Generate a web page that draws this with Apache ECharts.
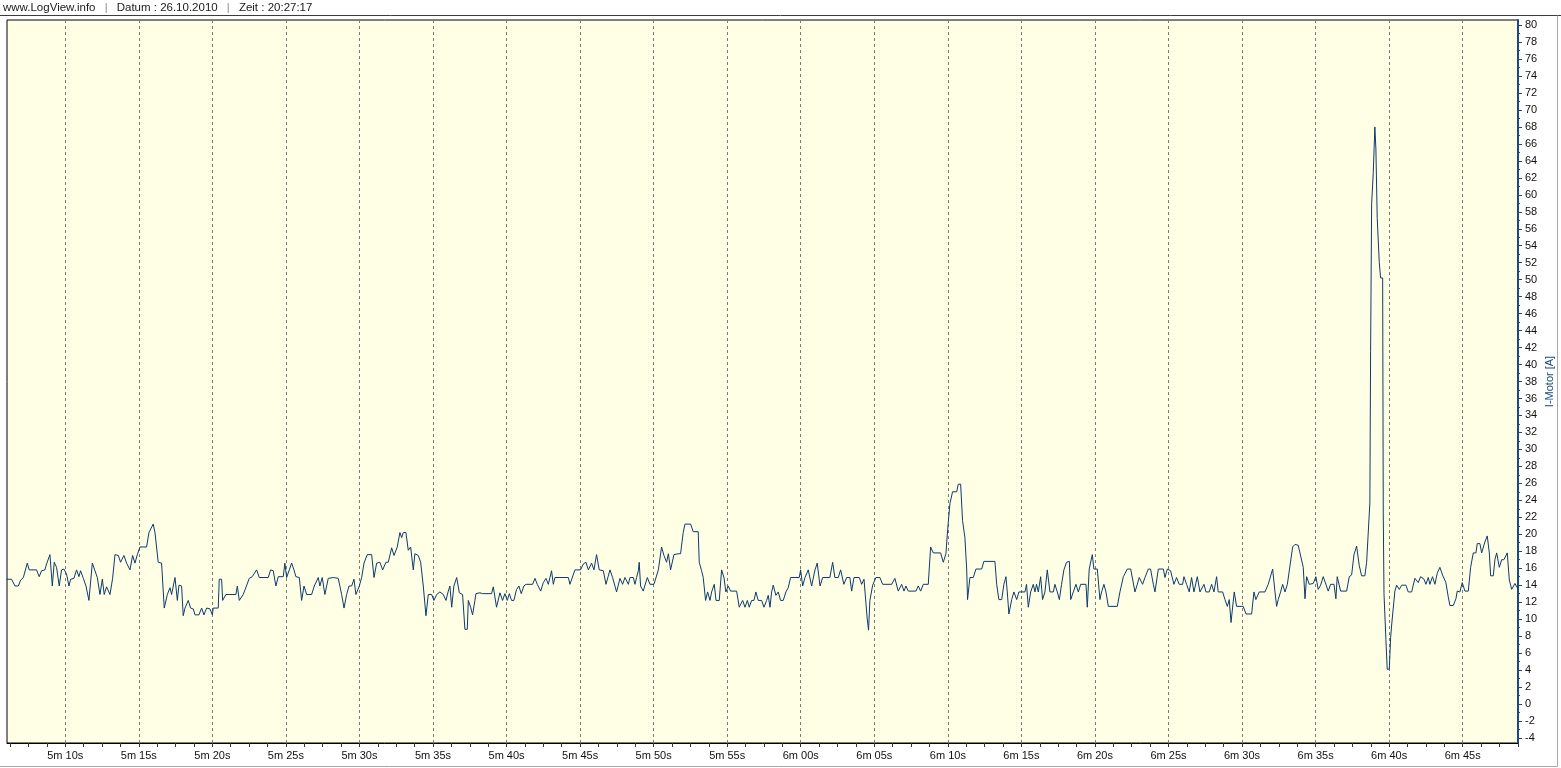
<!DOCTYPE html>
<html><head><meta charset="utf-8">
<script src="https://cdn.jsdelivr.net/npm/echarts@6/dist/echarts.min.js"></script>
<style>html,body{margin:0;padding:0;background:#fff}#c{width:1561px;height:768px}</style>
</head><body><div id="c"></div>
<script>
// ---- header texts ----
const siteText = 'www.LogView.info';
const dateText = 'Datum : 26.10.2010';
const timeText = 'Zeit : 20:27:17';
const axisName = 'I-Motor [A]';

// ---- axis ticks ----
const yTickValues = [-4,-2,0,2,4,6,8,10,12,14,16,18,20,22,24,26,28,30,32,34,36,38,40,42,44,46,48,50,52,54,56,58,60,62,64,66,68,70,72,74,76,78,80];
const xLabelSeconds = [310,315,320,325,330,335,340,345,350,355,360,365,370,375,380,385,390,395,400,405];
const xLabelTexts = ['5m 10s','5m 15s','5m 20s','5m 25s','5m 30s','5m 35s','5m 40s','5m 45s','5m 50s','5m 55s','6m 00s','6m 05s','6m 10s','6m 15s','6m 20s','6m 25s','6m 30s','6m 35s','6m 40s','6m 45s'];

// ---- series: [time in s, I-Motor in A] ----
const motorPart1 = [[306.01,14.7],[306.35,14.7],[306.58,13.9],[306.81,13.9],[306.97,14.6],[307.15,14.9],[307.42,16.6],[307.55,15.8],[308.05,15.8],[308.23,15.0],[308.39,15.7],[308.62,15.8],[308.73,16.5],[308.96,17.6],[309.12,13.9],[309.25,16.7],[309.41,16.1],[309.59,13.9],[309.75,15.8],[309.91,15.9],[310.09,15.3],[310.25,13.9],[310.37,14.7],[310.59,14.8],[310.77,15.8],[310.93,15.0],[311.04,15.7],[311.23,14.8],[311.41,13.9],[311.61,12.2],[311.84,16.6],[312.02,15.7],[312.18,14.9],[312.36,12.9],[312.52,14.7],[312.65,12.9],[312.81,13.8],[313.04,12.9],[313.22,14.8],[313.38,17.6],[313.61,17.5],[313.76,16.7],[313.99,17.5],[314.17,16.6],[314.40,15.8],[314.58,17.5],[314.74,16.6],[314.90,17.6],[315.08,18.5],[315.53,18.5],[315.69,20.2],[315.80,20.2],[315.98,21.2],[316.10,20.2],[316.32,16.7],[316.55,16.6],[316.73,11.3],[316.94,12.9],[317.12,13.7],[317.23,12.9],[317.46,14.9],[317.62,12.2],[317.73,14.0],[317.91,13.9],[318.02,10.4],[318.14,11.3],[318.36,12.2],[318.52,11.3],[318.70,11.2],[318.82,10.5],[319.09,10.5],[319.27,11.3],[319.43,10.5],[319.61,11.3],[319.84,11.2],[320.00,10.5],[320.06,11.3],[320.40,11.3],[320.47,14.7],[320.63,14.7],[320.70,12.2],[320.92,12.9],[321.60,12.9],[321.70,13.9],[321.83,12.2],[322.10,12.9],[322.51,14.8],[322.71,15.0],[323.01,15.8],[323.19,14.9],[323.80,14.9],[323.96,15.8],[324.14,15.7],[324.32,13.9],[324.48,15.0],[324.82,15.0],[324.93,16.6],[325.05,14.9],[325.23,15.8],[325.39,16.6],[325.55,15.8],[325.68,15.0],[325.91,14.9],[326.07,12.2],[326.23,13.9],[326.41,12.9],[326.75,12.9],[326.93,13.9],[327.20,14.9],[327.31,13.9],[327.47,14.9],[327.65,12.9],[327.88,14.8],[328.22,14.9],[328.56,14.8],[328.79,12.9],[328.95,11.3],[329.13,12.9],[329.29,13.9],[329.47,13.9],[329.63,14.7],[329.76,12.9],[329.99,13.9],[330.15,14.9],[330.31,16.6],[330.53,17.6],[330.83,17.6],[330.99,14.9],[331.17,16.6],[331.39,16.7],[331.58,15.8],[331.80,16.7],[331.96,16.7],[332.19,18.4],[332.35,17.5],[332.57,18.5],[332.75,20.2],[332.87,19.6],[332.98,20.2],[333.16,20.2],[333.32,18.1],[333.48,18.5],[333.66,15.8],[333.77,17.7],[334.00,17.5],[334.16,16.7],[334.34,13.9],[334.52,10.4],[334.68,12.9],[334.91,12.9],[335.06,12.2],[335.25,12.9],[335.47,13.2],[335.70,12.9],[335.88,12.2],[336.04,13.3]];
const motorPart2 = [[336.15,13.9],[336.27,11.4],[336.42,13.9],[336.61,14.9],[336.79,13.1],[337.01,12.9],[337.17,8.8],[337.33,8.8],[337.40,12.2],[337.56,11.4],[337.69,10.5],[337.85,12.2],[337.92,13.0],[338.19,13.1],[338.37,13.0],[338.98,13.0],[339.10,13.8],[339.32,11.4],[339.55,13.1],[339.73,12.2],[339.89,13.0],[340.05,12.2],[340.19,13.0],[340.34,12.2],[340.50,12.2],[340.68,13.5],[340.84,13.9],[341.00,13.0],[341.18,13.9],[341.32,14.1],[341.77,14.1],[341.93,14.8],[342.09,14.1],[342.32,13.3],[342.50,14.3],[342.68,14.8],[342.84,14.1],[342.95,14.9],[343.06,15.7],[343.18,14.1],[343.29,14.9],[344.20,14.9],[344.31,14.1],[344.65,15.8],[345.03,15.8],[345.22,16.5],[345.40,16.7],[345.56,15.8],[345.78,16.6],[345.94,15.8],[346.12,17.6],[346.30,15.8],[346.58,15.7],[346.76,14.1],[347.03,15.8],[347.21,14.9],[347.48,13.2],[347.71,14.8],[347.89,14.1],[348.05,14.9],[348.28,14.1],[348.39,14.9],[348.62,14.9],[348.73,14.1],[348.84,14.9],[348.96,15.7],[349.02,16.7],[349.11,13.9],[349.29,13.3],[349.57,14.9],[349.75,14.1],[350.02,14.1],[350.32,15.8],[350.54,18.5],[350.70,17.5],[350.88,16.7],[351.00,17.7],[351.15,15.8],[351.38,17.6],[351.67,17.7],[351.83,17.7],[352.01,20.2],[352.13,21.2],[352.51,21.2],[352.69,20.3],[353.03,20.3],[353.10,16.7],[353.26,15.7],[353.37,14.9],[353.53,12.2],[353.67,13.2],[353.83,12.2],[353.94,13.2],[354.12,14.1],[354.24,12.2],[354.46,12.2],[354.62,15.8],[354.78,14.9],[354.91,13.2],[355.07,13.9],[355.23,13.3],[355.64,13.3],[355.82,11.4],[356.05,12.2],[356.21,11.4],[356.37,12.2],[356.50,11.4],[356.66,12.2],[356.82,12.2],[356.95,13.2],[357.11,12.2],[357.34,12.2],[357.50,11.4],[357.68,12.2],[357.79,12.8],[357.91,11.4],[358.02,13.2],[358.13,14.0],[358.31,12.8],[358.47,13.2],[358.63,12.2],[358.81,12.2],[358.99,13.2],[359.15,13.7],[359.31,14.9],[359.90,14.9],[359.99,15.8],[360.13,13.9],[360.29,14.9],[360.51,15.8],[360.74,13.9],[360.97,15.8],[361.12,16.6],[361.31,13.9],[361.49,14.9],[361.98,14.9],[362.17,16.7],[362.32,14.9],[362.55,14.9],[362.71,15.8],[362.93,14.1],[363.12,14.9],[363.34,14.9],[363.46,13.3],[363.62,14.9],[363.98,14.9],[364.14,14.1],[364.30,14.7],[364.43,14.9],[364.52,10.0],[364.61,8.7],[364.70,12.2],[364.89,14.0],[365.11,14.9],[365.38,14.9],[365.57,14.1],[366.18,14.1],[366.40,14.8],[366.63,13.3]];
const motorPart3 = [[366.74,13.5],[366.86,14.1],[367.02,13.3],[367.15,13.9],[367.31,13.3],[367.83,13.3],[367.99,13.9],[368.15,13.3],[368.33,14.1],[368.67,14.1],[368.83,18.5],[369.01,17.8],[369.51,17.8],[369.69,16.7],[369.87,17.7],[369.98,20.4],[370.14,23.6],[370.32,25.0],[370.60,25.0],[370.71,25.9],[370.87,25.9],[371.00,21.6],[371.16,19.6],[371.28,15.9],[371.34,12.3],[371.50,14.9],[371.73,14.9],[371.91,15.9],[372.30,15.9],[372.45,16.8],[373.20,16.8],[373.32,14.1],[373.47,12.3],[373.66,12.3],[373.81,14.1],[373.95,15.0],[374.04,13.2],[374.15,10.6],[374.34,12.3],[374.49,13.2],[374.68,12.3],[374.83,13.2],[375.24,13.2],[375.35,14.1],[375.47,11.4],[375.63,13.2],[375.81,14.1],[375.92,13.2],[376.03,14.1],[376.15,13.2],[376.31,15.0],[376.44,12.3],[376.60,13.2],[376.76,15.8],[376.94,13.2],[377.17,13.2],[377.28,14.1],[377.44,13.2],[377.58,12.3],[377.73,14.1],[377.89,15.8],[378.07,16.7],[378.26,16.8],[378.35,12.3],[378.53,13.2],[378.71,14.1],[378.87,13.2],[379.03,14.1],[379.39,14.1],[379.48,11.4],[379.61,15.9],[379.82,17.6],[379.93,15.9],[380.16,15.9],[380.34,12.3],[380.45,13.2],[380.61,14.1],[380.75,13.2],[380.91,11.5],[381.52,11.5],[381.70,13.2],[381.93,15.0],[382.20,15.9],[382.43,15.9],[382.72,13.2],[382.88,14.1],[383.01,14.9],[383.24,14.1],[383.40,14.9],[383.63,15.9],[383.78,15.9],[383.97,14.1],[384.08,13.2],[384.31,15.9],[384.65,15.9],[384.76,14.9],[384.92,15.9],[385.14,15.7],[385.37,14.1],[385.55,14.9],[385.73,14.1],[385.96,14.1],[386.05,15.0],[386.23,14.1],[386.41,13.2],[386.57,14.9],[386.73,13.2],[386.96,15.0],[387.14,13.2],[387.41,14.1],[387.55,13.2],[387.77,13.2],[387.93,14.1],[388.09,13.2],[388.27,15.0],[388.38,13.2],[388.68,13.2],[388.84,12.3],[389.00,11.5],[389.13,12.3],[389.25,9.6],[389.36,9.6],[389.47,13.2],[389.63,11.5],[390.08,11.5],[390.27,10.6],[390.65,10.6],[390.81,13.2],[390.94,12.3],[391.17,13.2],[391.56,13.2],[391.78,14.1],[392.08,15.9],[392.24,13.2],[392.35,11.5],[392.46,12.3],[392.62,13.2],[392.76,14.1],[392.92,13.2],[393.08,14.1],[393.21,14.1],[393.44,18.5],[393.60,18.8],[393.82,18.7]];
const motorPart4 = [[394.16,16.1],[394.28,12.4],[394.39,15.0],[394.57,14.1],[394.84,14.2],[395.02,15.0],[395.18,13.5],[395.34,14.0],[395.52,15.0],[395.86,13.3],[396.02,14.1],[396.25,14.1],[396.38,12.4],[396.47,15.0],[396.70,13.3],[397.11,13.3],[397.29,15.0],[397.45,15.2],[397.61,17.6],[397.79,18.6],[397.97,16.3],[398.13,15.1],[398.35,15.1],[398.47,16.7],[398.58,16.8],[398.69,23.7],[398.74,41.5],[398.81,58.9],[398.92,62.6],[399.03,68.0],[399.10,65.4],[399.19,57.2],[399.33,52.0],[399.42,50.2],[399.56,50.2],[399.60,22.4],[399.65,13.0],[399.78,7.6],[399.87,4.1],[400.01,4.1],[400.10,7.8],[400.17,9.3],[400.28,11.3],[400.39,13.3],[400.51,14.0],[400.69,13.5],[400.85,14.0],[401.14,14.0],[401.30,13.2],[401.53,13.2],[401.75,14.8],[401.98,14.3],[402.14,15.0],[402.37,14.7],[402.50,14.1],[402.66,14.9],[402.77,14.1],[402.95,15.0],[403.11,14.1],[403.27,15.4],[403.45,16.1],[403.63,15.2],[403.86,14.3],[404.02,12.6],[404.13,11.6],[404.36,11.6],[404.54,12.4],[404.63,13.3],[404.81,13.2],[404.97,14.3],[405.15,13.3],[405.38,13.3],[405.54,16.1],[405.72,17.8],[405.90,17.8],[405.99,18.9],[406.17,18.9],[406.29,17.8],[406.51,19.1],[406.67,19.8],[406.81,17.8],[406.90,15.1],[407.08,15.1],[407.19,17.0],[407.31,17.8],[407.49,16.1],[407.65,17.0],[407.80,17.0],[408.03,17.8],[408.17,14.6],[408.33,13.5],[408.55,14.2],[408.78,13.5]];

const motorCurrent = motorPart1.concat(motorPart2, motorPart3, motorPart4);

// ---- derived ticks (style helpers) ----
const X_MIN = 306.04, X_MAX = 408.76, Y_MIN = -4.6, Y_MAX = 80.6;
const xMinorTicks = [];
for (let i = 0; i < xLabelSeconds.length; i++) {
  for (let k = -3; k <= 3; k++) {
    const v = xLabelSeconds[i] + k * 1.25;
    if (v > X_MIN && v < X_MAX && xMinorTicks.indexOf(v) < 0) xMinorTicks.push(v);
  }
}
xMinorTicks.sort((a, b) => a - b);
const yMinorTicks = yTickValues.slice(0, -1).map(v => v + 1);

const FONT = '"Liberation Sans", Arial, sans-serif';
const BLUE = '#1b4a80';
const LINE = '#0d3a6e';

const chart = echarts.init(document.getElementById('c'), null, { renderer: 'canvas' });
chart.setOption({
  animation: false,
  backgroundColor: '#ffffff',
  title: {
    left: 3, top: 1, padding: 0,
    text: '{a|' + siteText + '}{p|   |   }{a|' + dateText + '}{p|   |   }{a|' + timeText + '}',
    textStyle: {
      fontWeight: 'normal', fontSize: 11, lineHeight: 14,
      rich: {
        a: { fontFamily: FONT, fontSize: 11.5, fontWeight: 'normal', color: '#1a1a1a', lineHeight: 14 },
        p: { fontFamily: FONT, fontSize: 11, fontWeight: 'normal', color: '#8a8a8a', lineHeight: 14 }
      }
    }
  },
  graphic: [
    { type: 'line', shape: { x1: 0, y1: 15.5, x2: 1561, y2: 15.5 }, style: { stroke: '#3c3c3c', lineWidth: 1 }, silent: true },
    { type: 'line', shape: { x1: 1557.5, y1: 15.5, x2: 1557.5, y2: 766.5 }, style: { stroke: '#a8a8a8', lineWidth: 1 }, silent: true },
    { type: 'line', shape: { x1: 0, y1: 766.5, x2: 1557.5, y2: 766.5 }, style: { stroke: '#a8a8a8', lineWidth: 1 }, silent: true }
  ],
  grid: {
    left: 7, right: 43, top: 20, bottom: 25,
    outerBoundsMode: 'none', containLabel: false,
    show: true, backgroundColor: '#ffffe6', borderColor: '#000000', borderWidth: 1
  },
  xAxis: [
    {
      type: 'value', min: X_MIN, max: X_MAX, position: 'bottom',
      axisLine: { show: true, onZero: false, lineStyle: { color: '#000', width: 1 } },
      axisTick: { show: true, length: 4, customValues: xMinorTicks, lineStyle: { color: '#333' } },
      axisLabel: {
        show: true, customValues: xLabelSeconds, margin: 7,
        fontFamily: FONT, fontSize: 11, color: '#111',
        formatter: v => { const i = xLabelSeconds.indexOf(Math.round(v)); return i >= 0 ? xLabelTexts[i] : ''; }
      },
      splitLine: { show: false }
    },
    {
      type: 'value', min: X_MIN, max: X_MAX, position: 'bottom',
      axisLine: { show: false }, axisLabel: { show: false },
      axisTick: { show: false, customValues: xLabelSeconds },
      splitLine: { show: true, customValues: xLabelSeconds, lineStyle: { color: '#7a7a7a', width: 1, type: [3, 3] } }
    }
  ],
  yAxis: [
    {
      type: 'value', min: Y_MIN, max: Y_MAX, position: 'right',
      name: axisName, nameLocation: 'middle', nameGap: 26, nameRotate: 90, nameMoveOverlap: false,
      nameTextStyle: { fontFamily: FONT, fontSize: 11, color: BLUE },
      axisLine: { show: true, onZero: false, lineStyle: { color: BLUE, width: 2 } },
      axisTick: { show: true, length: 4, customValues: yTickValues, lineStyle: { color: BLUE, width: 1 } },
      axisLabel: { show: true, customValues: yTickValues, margin: 7, fontFamily: FONT, fontSize: 11, color: '#111' },
      splitLine: { show: false }
    },
    {
      type: 'value', min: Y_MIN, max: Y_MAX, position: 'right',
      axisLine: { show: false }, axisLabel: { show: false },
      axisTick: { show: true, length: 2, customValues: yMinorTicks, lineStyle: { color: BLUE, width: 1 } },
      splitLine: { show: false }
    }
  ],
  series: [{
    name: axisName, type: 'line', xAxisIndex: 0, yAxisIndex: 0,
    data: motorCurrent, showSymbol: false, symbol: 'none', clip: true,
    lineStyle: { color: LINE, width: 1 }
  }]
});
</script>
</body></html>
